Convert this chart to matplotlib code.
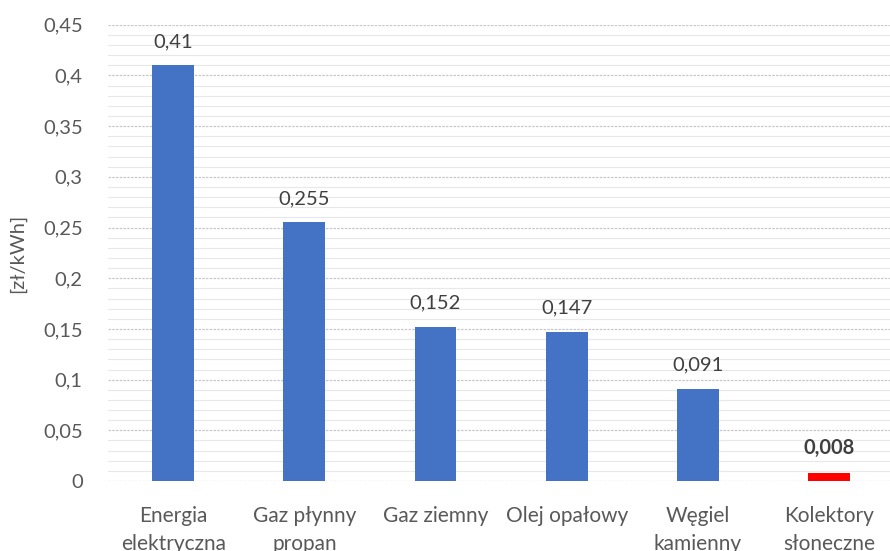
import matplotlib.pyplot as plt
from matplotlib.ticker import MultipleLocator, FuncFormatter

categories = ['Energia\nelektryczna', 'Gaz płynny\npropan', 'Gaz ziemny',
              'Olej opałowy', 'Węgiel\nkamienny', 'Kolektory\nsłoneczne']
values = [0.41, 0.255, 0.152, 0.147, 0.091, 0.008]
value_labels = ['0,41', '0,255', '0,152', '0,147', '0,091', '0,008']
colors = ['#4472c4'] * 5 + ['#ff0000']

plt.rcParams['font.family'] = ['Lato', 'DejaVu Sans']
txt = '#595959'
fs = 14.5

fig = plt.figure(figsize=(8.9, 5.51), dpi=100)
ax = fig.add_axes([0.121, 0.127, 0.884, 0.828])

x = range(len(categories))
ax.bar(x, values, width=0.32, color=colors, zorder=3)

for i, (v, lab) in enumerate(zip(values, value_labels)):
    ax.annotate(lab, (i, v), xytext=(0, 11), textcoords='offset points',
                ha='center', va='bottom', fontsize=fs, color='#404040',
                fontweight='bold' if i == len(values) - 1 else 'normal')

ax.set_xlim(-0.5, 5.5)
ax.set_ylim(0, 0.45)
ax.yaxis.set_major_locator(MultipleLocator(0.05))
ax.yaxis.set_minor_locator(MultipleLocator(0.01))
ax.yaxis.set_major_formatter(FuncFormatter(lambda v, p: ('%g' % round(v, 2)).replace('.', ',')))
ax.grid(axis='y', which='major', color='#c8c8c8', linestyle=(0, (2, 1)), linewidth=0.9, zorder=0)
ax.grid(axis='y', which='minor', color='#e8e8e8', linestyle='-', linewidth=0.8, zorder=0)

ax.set_xticks(list(x))
ax.set_xticklabels(categories, fontsize=15, color=txt, linespacing=1.5)
ax.tick_params(axis='x', length=0, pad=18)
ax.tick_params(axis='y', which='both', length=0, labelsize=fs, labelcolor=txt, pad=18)
ax.set_ylabel('[zł/kWh]', fontsize=fs, color=txt, labelpad=12)
for s in ax.spines.values():
    s.set_visible(False)

plt.savefig('out.png', dpi=100)
